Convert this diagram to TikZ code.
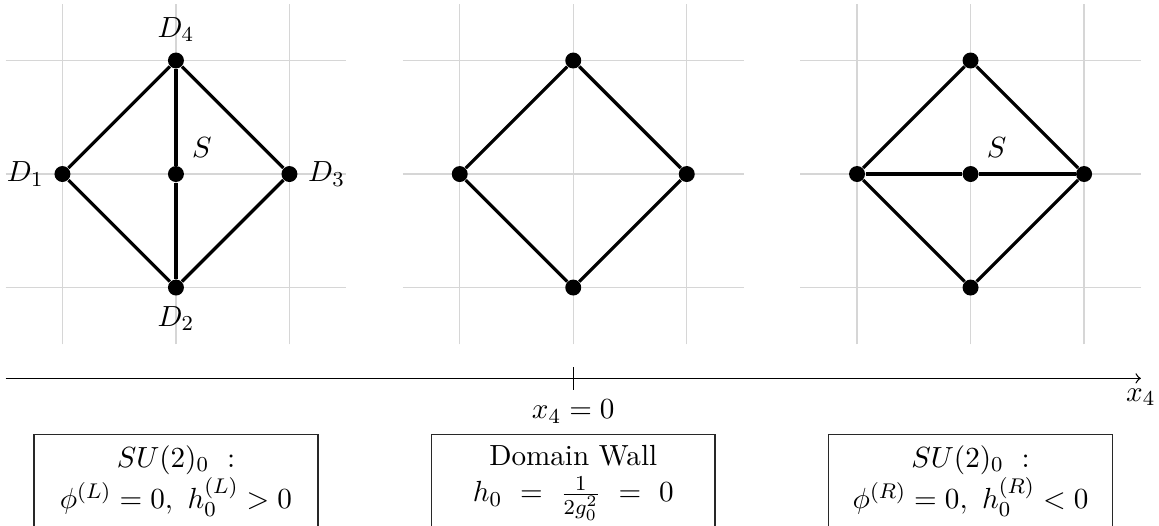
\documentclass[11pt,tikz,border=0pt]{standalone}
\usepackage{amsmath}
\usepackage{tikz}
\usetikzlibrary{positioning}
\definecolor{gridcolor}{RGB}{214, 214, 214}
\definecolor{edgecolor}{RGB}{0, 0, 0}
\definecolor{framecolor}{RGB}{40, 40, 40}
\tikzset{
gridline/.style={
  draw=gridcolor,
  line width=0.5pt,
  step=1.5cm
},
vertex/.style={
  circle,
  fill=edgecolor,
  inner sep=0pt,
  minimum size=6pt
},
edge/.style={
  draw=edgecolor,
  line width=1.2pt
},
axisline/.style={
  ->,
  line width=0.5pt
},
tickline/.style={
  line width=0.5pt
},
stateframe/.style={
  draw=framecolor,
  line width=0.5pt,
  minimum width=3.75cm,
  minimum height=1.5cm,
  anchor=north
},
statetext/.style={
  align=center,
  inner xsep=0pt
}
}

\begin{document}
\begin{tikzpicture}[x=1.5cm, y=1.5cm]
\useasboundingbox (-1.55,-3.093) rectangle (8.66,1.533);
% background grids
\foreach \cx in {0,3.5,7}
  \draw[gridline, shift={(\cx,0)}] (-1.5,-1.5) grid (1.5,1.5);

% left: SU(2) phase, vertical link through S
\node[vertex, label={above:$D_4$}] (L4) at (0,1) {};
\node[vertex, label={below:$D_2$}] (L2) at (0,-1) {};
\node[vertex, label={left:$D_1$}] (L1) at (-1,0) {};
\node[vertex, label={right:$D_3$}] (L3) at (1,0) {};
\node[vertex, label={45:$S$}] (LS) at (0,0) {};
\draw[edge] (L1) -- (L4) -- (L3) -- (L2) -- (L1);
\draw[edge] (L4) -- (LS) -- (L2);

% middle: domain wall
\node[vertex] (M4) at (3.5,1) {};
\node[vertex] (M2) at (3.5,-1) {};
\node[vertex] (M1) at (2.5,0) {};
\node[vertex] (M3) at (4.5,0) {};
\draw[edge] (M1) -- (M4) -- (M3) -- (M2) -- (M1);

% right: SU(2) phase, horizontal link through S
\node[vertex] (R4) at (7,1) {};
\node[vertex] (R2) at (7,-1) {};
\node[vertex] (R1) at (6,0) {};
\node[vertex] (R3) at (8,0) {};
\node[vertex, label={45:$S$}] (RS) at (7,0) {};
\draw[edge] (R1) -- (R4) -- (R3) -- (R2) -- (R1);
\draw[edge] (R1) -- (RS) -- (R3);

% x_4 axis
\coordinate (axisstart) at (-1.5,-1.8);
\coordinate (axisend) at (8.5,-1.8);
\coordinate (ticktop) at (3.5,-1.7);
\coordinate (tickbottom) at (3.5,-1.9);
\draw[axisline] (axisstart) -- (axisend) node[below] (axislabel) {$x_4$};
\draw[tickline] (ticktop) -- (tickbottom) node[below] (walllabel) {$x_4=0$};

% state boxes
\node[stateframe] (leftframe) at (0,-2.29) {};
\node[statetext, below=0.5pt of leftframe.north] (lefttext)
  {$SU(2)_0\ :$\\$\phi^{(L)}=0,\ h_0^{(L)}>0$};
\node[stateframe] (midframe) at (3.5,-2.29) {};
\node[statetext, below=0.5pt of midframe.north] (midtext)
  {Domain Wall\\$h_0\ =\ \frac{1}{2g_0^2}\ =\ 0$};
\node[stateframe] (rightframe) at (7,-2.29) {};
\node[statetext, below=0.5pt of rightframe.north] (righttext)
  {$SU(2)_0\ :$\\$\phi^{(R)}=0,\ h_0^{(R)}<0$};
\end{tikzpicture}
\end{document}
